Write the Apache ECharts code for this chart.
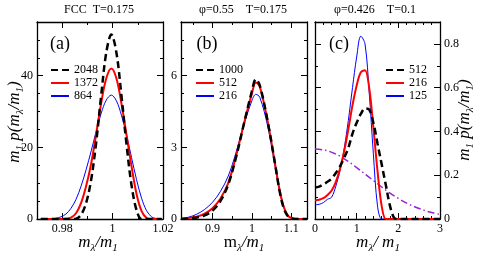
<!DOCTYPE html>
<html><head><meta charset="utf-8">
<script src="https://cdn.jsdelivr.net/npm/echarts@6/dist/echarts.min.js"></script>
<style>html,body{margin:0;padding:0;background:#fff}#c{width:479px;height:255px}</style>
</head><body><div id="c"></div>
<script>
// ---------- data ----------
// panel (a) FCC
const aX = [0.9715,0.9735,0.9755,0.9775,0.9795,0.9815,0.9835,0.9855,0.9875,0.9895,0.9915,0.9935,0.9955,0.9975,0.9995,1.0015,1.0035,1.0055,1.0075,1.0095,1.0115,1.0135,1.0155,1.0175,1.0195];
const a2048 = [0,0,0,0,0,0,0,0.1,1.2,4.5,11,21.5,34.7,46.5,51.5,46.5,34.5,21,9.5,2.5,0,0,0,0,0];
const a1372 = [0,0,0,0,0,0.05,0.4,1.6,4.5,9.2,15.5,23.8,32.5,39.3,42,39.3,32.3,23.6,14.8,7,2.2,0.3,0,0,0];
const a864  = [0,0,0.05,0.2,0.6,1.4,3.0,5.5,9.2,13.8,19,24.5,29.6,33.2,34.6,33,29,23.5,17.2,11,5.8,2.3,0.6,0.1,0];
// panel (b) phi=0.55
const bX = [0.82,0.84,0.86,0.88,0.90,0.92,0.94,0.96,0.98,1.00,1.01,1.02,1.04,1.06,1.07,1.08,1.09,1.10,1.12,1.14];
const b1000 = [0,0.02,0.06,0.15,0.35,0.75,1.45,2.6,4.0,5.35,5.85,5.6,4.1,2.2,1.2,0.5,0.15,0.03,0,0];
const b512  = [0,0.04,0.1,0.22,0.45,0.85,1.5,2.65,4.0,5.25,5.72,5.55,4.1,2.2,1.25,0.55,0.18,0.04,0,0];
const b216  = [0.02,0.08,0.2,0.4,0.7,1.15,1.8,2.8,3.95,4.95,5.22,5.1,3.9,2.1,1.2,0.55,0.2,0.05,0,0];
// panel (c) phi=0.426
const cX = [0,0.1,0.2,0.3,0.4,0.5,0.6,0.7,0.8,0.9,1.0,1.1,1.2,1.3,1.4,1.5,1.6,1.7,1.8,1.9,2.0,2.2,2.5,3.0];
const c512 = [0.144,0.148,0.158,0.17,0.185,0.21,0.24,0.28,0.325,0.39,0.44,0.48,0.505,0.5,0.44,0.345,0.25,0.155,0.06,0.005,0,0,0,0];
const c216 = [0.085,0.088,0.095,0.11,0.13,0.17,0.23,0.31,0.41,0.52,0.61,0.67,0.68,0.6,0.42,0.22,0.06,0,0,0,0,0,0,0];
const c125 = [0.065,0.067,0.075,0.09,0.1,0.15,0.22,0.32,0.45,0.6,0.74,0.835,0.8,0.58,0.3,0.06,0,0,0,0,0,0,0,0];
const pX = [0,0.25,0.5,0.75,1.0,1.25,1.5,1.75,2.0,2.25,2.5,2.75,3.0];
const pV = [0.32,0.314,0.297,0.269,0.235,0.198,0.161,0.125,0.094,0.068,0.048,0.032,0.021];
// ticks
const aXMajor = [0.98,1.0,1.02];
const aXMinor = [0.97,0.98,0.99,1.0,1.01,1.02];
const aYMajor = [0,20,40];
const aYMinor = [0,5,10,15,20,25,30,35,40,45,50,55];
const bXMajor = [0.9,1.0,1.1];
const bXMinor = [0.85,0.9,0.95,1.0,1.05,1.1];
const bYMajor = [0,3,6];
const bYMinor = [0,0.75,1.5,2.25,3,3.75,4.5,5.25,6,6.75,7.5,8.25];
const cXMajor = [0,1,2,3];
const cXMinor = [0,0.2,0.4,0.6,0.8,1.0,1.2,1.4,1.6,1.8,2.0,2.2,2.4,2.6,2.8,3.0];
const cYMajor = [0,0.2,0.4,0.6,0.8];
const cYMinor = [0,0.1,0.2,0.3,0.4,0.5,0.6,0.7,0.8,0.9];

// ---------- layout / styles ----------
const FONT = '"Liberation Serif","Times New Roman",serif';
const rects = [
  {left:37, top:22, width:126, height:197},
  {left:181, top:22, width:126, height:197},
  {left:315, top:22, width:125, height:197}
];
const ranges = [
  {xmin:0.97, xmax:1.02, ymin:0, ymax:55, xMaj:aXMajor, xMin_:aXMinor, yMaj:aYMajor, yMin_:aYMinor, yLab:'left'},
  {xmin:0.82, xmax:1.14, ymin:0, ymax:8.25, xMaj:bXMajor, xMin_:bXMinor, yMaj:bYMajor, yMin_:bYMinor, yLab:'left'},
  {xmin:0, xmax:3, ymin:0, ymax:0.9, xMaj:cXMajor, xMin_:cXMinor, yMaj:cYMajor, yMin_:cYMinor, yLab:'right'}
];
const fmt = v => String(+(+v).toFixed(4));

function mkAxis(g, pos, min, max, ticks, len, labels, showLine) {
  return {
    gridIndex: g, type: 'value', position: pos, min: min, max: max,
    axisLine: {show: showLine, onZero: false, lineStyle: {color: '#000', width: 1.3}},
    axisTick: {show: true, inside: true, length: len, customValues: ticks, lineStyle: {color: '#000', width: 1}},
    axisLabel: labels ? {show: true, customValues: labels, color: '#000', fontFamily: FONT, fontSize: 12, margin: 4, formatter: fmt}
                      : {show: false},
    splitLine: {show: false}
  };
}

const grid = [], xAxis = [], yAxis = [];
rects.forEach((r, p) => {
  const R = ranges[p];
  const g = grid.length;
  grid.push(Object.assign({}, r));
  xAxis.push(mkAxis(g, 'bottom', R.xmin, R.xmax, R.xMaj, 6, R.xMaj, true));
  xAxis.push(mkAxis(g, 'top', R.xmin, R.xmax, R.xMaj, 6, null, true));
  yAxis.push(mkAxis(g, 'left', R.ymin, R.ymax, R.yMaj, 6, R.yLab === 'left' ? R.yMaj : null, true));
  yAxis.push(mkAxis(g, 'right', R.ymin, R.ymax, R.yMaj, 6, R.yLab === 'right' ? R.yMaj : null, true));
  const gm = grid.length;
  grid.push(Object.assign({}, r));
  xAxis.push(mkAxis(gm, 'bottom', R.xmin, R.xmax, R.xMin_, 3, null, false));
  xAxis.push(mkAxis(gm, 'top', R.xmin, R.xmax, R.xMin_, 3, null, false));
  yAxis.push(mkAxis(gm, 'left', R.ymin, R.ymax, R.yMin_, 3, null, false));
  yAxis.push(mkAxis(gm, 'right', R.ymin, R.ymax, R.yMin_, 3, null, false));
});

const zip = (xs, ys) => xs.map((x, i) => [x, ys[i]]);
const styles = {
  black: {color: '#000', width: 2.5, type: [7, 4]},
  red: {color: '#ff0000', width: 2},
  blue: {color: '#0000ff', width: 1},
  purple: {color: '#9a22d6', width: 1.5, type: [7, 3, 1.5, 3]}
};
function line(name, panel, xs, ys, st, z) {
  return {
    type: 'line', name: name, xAxisIndex: panel * 4, yAxisIndex: panel * 4,
    data: zip(xs, ys), symbol: 'none', showSymbol: false, smooth: 0.35,
    lineStyle: st, itemStyle: {color: st.color}, z: z, animation: false
  };
}
const series = [
  line('a864', 0, aX, a864, styles.blue, 2),
  line('a1372', 0, aX, a1372, styles.red, 3),
  line('a2048', 0, aX, a2048, styles.black, 4),
  line('b216', 1, bX, b216, styles.blue, 2),
  line('b512', 1, bX, b512, styles.red, 3),
  line('b1000', 1, bX, b1000, styles.black, 4),
  line('cp', 2, pX, pV, styles.purple, 1),
  line('c125', 2, cX, c125, styles.blue, 2),
  line('c216', 2, cX, c216, styles.red, 3),
  line('c512', 2, cX, c512, styles.black, 4)
];

function legend(left, names) {
  return {
    left: left, top: 64, orient: 'vertical', padding: 0, itemGap: 1,
    itemWidth: 18, itemHeight: 10, selectedMode: false, data: names,
    itemStyle: {opacity: 0},
    formatter: n => n.slice(1),
    textStyle: {fontFamily: FONT, fontSize: 12, lineHeight: 11, color: '#000'}
  };
}

const rich = {
  i: {fontFamily: FONT, fontStyle: 'italic', fontSize: 17, lineHeight: 22, fill: '#000'},
  u: {fontFamily: FONT, fontSize: 17, lineHeight: 22, fill: '#000'},
  s: {fontFamily: FONT, fontStyle: 'italic', fontSize: 11, lineHeight: 11, verticalAlign: 'bottom', fill: '#000'}
};
const yName = '{i|m}{s|1}{i| p(m}{s|λ}{i|/m}{s|1}{i|)}';
function txt(x, y, text, size) {
  return {type: 'text', x: x, y: y, silent: true,
    style: {text: text, fontFamily: FONT, fontSize: size, fill: '#000', align: 'center', verticalAlign: 'middle'}};
}
function rtxt(x, y, text, rot) {
  return {type: 'text', x: x, y: y, rotation: rot || 0, silent: true,
    style: {text: text, rich: rich, align: 'center', verticalAlign: 'middle', fontFamily: FONT, fontSize: 17, fill: '#000'}};
}
const graphic = [
  txt(99, 10, 'FCC  T=0.175', 12),
  txt(243, 10, 'φ=0.55    T=0.175', 12),
  txt(375, 10, 'φ=0.426    T=0.1', 12),
  txt(60, 44, '(a)', 18),
  txt(207, 44, '(b)', 18),
  txt(339, 44, '(c)', 18),
  rtxt(15, 122, yName, Math.PI / 2),
  rtxt(465, 120, yName, Math.PI / 2),
  rtxt(98, 243, '{i|m}{s|λ}{i|/m}{s|1}'),
  rtxt(244, 243, '{u|m}{s|λ}{i|/m}{s|1}'),
  rtxt(378, 243, '{i|m}{s|λ}{i|/ m}{s|1}')
];

const chart = echarts.init(document.getElementById('c'), null, {renderer: 'canvas'});
chart.setOption({
  animation: false,
  backgroundColor: '#fff',
  grid: grid, xAxis: xAxis, yAxis: yAxis, series: series,
  legend: [
    legend(50, ['a2048', 'a1372', 'a864']),
    legend(195, ['b1000', 'b512', 'b216']),
    legend(385, ['c512', 'c216', 'c125'])
  ],
  graphic: graphic
});
</script></body></html>
